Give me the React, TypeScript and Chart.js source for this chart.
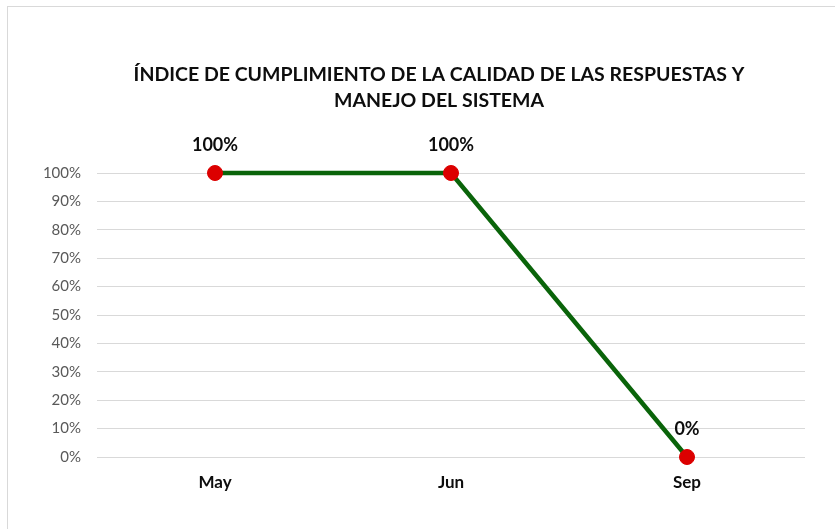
import React, { useEffect, useRef } from "react";
import { Chart, registerables } from "chart.js";

Chart.register(...registerables);

const categories = ["May", "Jun", "Sep"];
const values = [100, 100, 0];
const yTicks = [0, 10, 20, 30, 40, 50, 60, 70, 80, 90, 100];
const titleLines = [
  "ÍNDICE DE CUMPLIMIENTO DE LA CALIDAD DE LAS RESPUESTAS Y",
  "MANEJO DEL SISTEMA",
];

const FONT = "Lato, 'Open Sans', 'Liberation Sans', sans-serif";

const framePlugin = {
  id: "frame",
  beforeDraw(chart: any) {
    const ctx = chart.ctx;
    ctx.save();
    ctx.fillStyle = "#ffffff";
    ctx.fillRect(0, 0, chart.width, chart.height);
    ctx.strokeStyle = "#d9d9d9";
    ctx.lineWidth = 1;
    ctx.strokeRect(7.5, 6.5, chart.width + 20, chart.height + 20);
    ctx.restore();
  },
};

const titlePlugin = {
  id: "customTitle",
  afterDraw(chart: any) {
    const ctx = chart.ctx;
    ctx.save();
    ctx.font = `bold 19.5px ${FONT}`;
    ctx.fillStyle = "#0d0d0d";
    ctx.textAlign = "center";
    ctx.textBaseline = "middle";
    const cx = chart.width / 2 + 21.5;
    titleLines.forEach((line, i) => {
      ctx.fillText(line, cx, 75 + i * 26);
    });
    ctx.restore();
  },
};

const labelPlugin = {
  id: "pointLabels",
  afterDatasetsDraw(chart: any) {
    const ctx = chart.ctx;
    const meta = chart.getDatasetMeta(0);
    ctx.save();
    ctx.font = `bold 18px ${FONT}`;
    ctx.fillStyle = "#0d0d0d";
    ctx.textAlign = "center";
    ctx.textBaseline = "middle";
    meta.data.forEach((pt: any, i: number) => {
      const v = chart.data.datasets[0].data[i];
      ctx.fillText(`${v}%`, pt.x, pt.y - 28);
    });
    ctx.restore();
  },
};

export default function App() {
  const ref = useRef<HTMLCanvasElement>(null);
  useEffect(() => {
    if (!ref.current) return;
    const chart = new Chart(ref.current, {
      type: "line",
      data: {
        labels: categories,
        datasets: [
          {
            data: values,
            borderColor: "#0a640a",
            borderWidth: 4.5,
            pointBackgroundColor: "#dc0000",
            pointBorderColor: "#dc0000",
            pointRadius: 7.5,
            pointBorderWidth: 1,
            tension: 0,
            clip: false,
          },
        ],
      },
      options: {
        animation: false,
        responsive: false,
        layout: { padding: { left: 17, right: 30, top: 173, bottom: 32 } },
        plugins: {
          legend: { display: false },
          tooltip: { enabled: false },
          title: { display: false },
        },
        scales: {
          x: {
            offset: true,
            grid: { display: false, drawTicks: false },
            border: { display: false },
            ticks: {
              color: "#0d0d0d",
              font: { family: FONT, size: 17, weight: "bold" },
              padding: 15,
            },
            afterFit(scale: any) {
              scale.height = 40;
            },
          },
          y: {
            min: 0,
            max: 100,
            afterBuildTicks(scale: any) {
              scale.ticks = yTicks.map((v) => ({ value: v }));
            },
            grid: { color: "#d9d9d9", lineWidth: 1, drawTicks: false },
            border: { display: false },
            ticks: {
              color: "#595959",
              font: { family: FONT, size: 15 },
              padding: 16,
              callback: (v: any) => `${v}%`,
            },
            afterFit(scale: any) {
              scale.width = 80;
            },
          },
        },
      },
      plugins: [framePlugin, labelPlugin, titlePlugin],
    });
    return () => chart.destroy();
  }, []);
  return (
    <div style={{ position: "fixed", left: 0, top: 0, width: 835, height: 529 }}>
      <canvas ref={ref} width={835} height={529} />
    </div>
  );
}
